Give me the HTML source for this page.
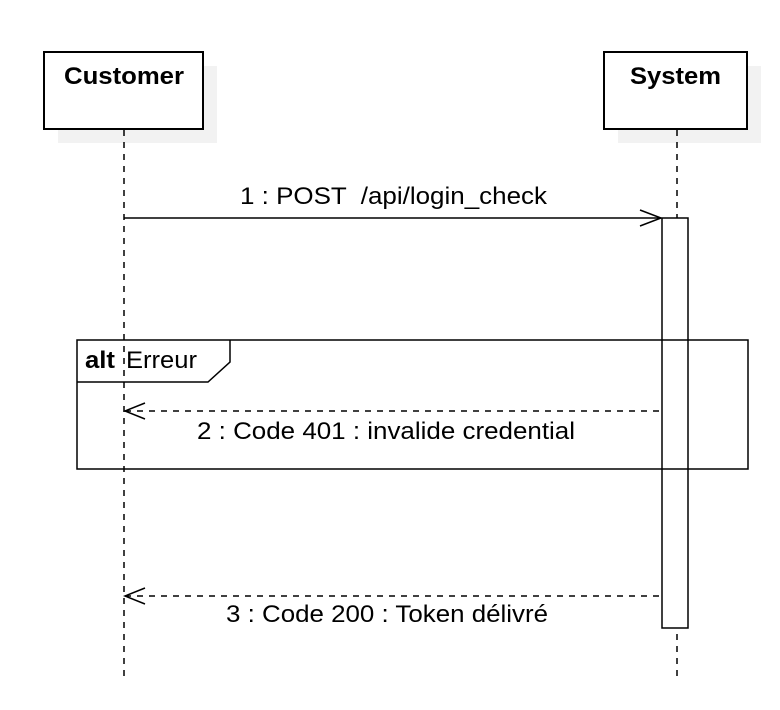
<!DOCTYPE html>
<html><head><style>body{margin:0;background:#fff}svg{display:block}</style></head><body>
<svg width="780" height="710" xmlns="http://www.w3.org/2000/svg" font-family="Liberation Sans, sans-serif">
<rect x="0" y="0" width="780" height="710" fill="#fff"/>
<rect x="58" y="66" width="159" height="77" fill="#f2f2f2"/>
<rect x="618" y="66" width="143" height="77" fill="#f2f2f2"/>
<rect x="44" y="52" width="159" height="77" fill="#fff" stroke="#000" stroke-width="2"/>
<rect x="604" y="52" width="143" height="77" fill="#fff" stroke="#000" stroke-width="2"/>
<text x="64" y="84" font-size="24" font-weight="bold" textLength="120" lengthAdjust="spacingAndGlyphs">Customer</text>
<text x="630" y="84" font-size="24" font-weight="bold" textLength="91" lengthAdjust="spacingAndGlyphs">System</text>
<line x1="124" y1="130" x2="124" y2="678" stroke="#000" stroke-width="1.5" stroke-dasharray="6,6"/>
<line x1="677" y1="130" x2="677" y2="678" stroke="#000" stroke-width="1.5" stroke-dasharray="6,6"/>
<rect x="662" y="218" width="26" height="410" fill="#fff" stroke="#000" stroke-width="1.5"/>
<rect x="77" y="340" width="671" height="129" fill="none" stroke="#000" stroke-width="1.5"/>
<path d="M77 382 H208 L230 362 V340" fill="none" stroke="#000" stroke-width="1.5"/>
<text x="85" y="368" font-size="24" font-weight="bold" textLength="30" lengthAdjust="spacingAndGlyphs">alt</text>
<text x="126" y="368" font-size="24" textLength="71" lengthAdjust="spacingAndGlyphs">Erreur</text>
<line x1="124" y1="218" x2="661" y2="218" stroke="#000" stroke-width="1.5"/>
<path d="M640 210 L661 218 L640 226" fill="none" stroke="#000" stroke-width="1.5"/>
<text x="240" y="204" font-size="24" textLength="307" lengthAdjust="spacingAndGlyphs">1 : POST &#160;/api/login_check</text>
<line x1="125" y1="411" x2="662" y2="411" stroke="#000" stroke-width="1.5" stroke-dasharray="6,6"/>
<path d="M145 403 L125 411 L145 419" fill="none" stroke="#000" stroke-width="1.5"/>
<text x="197" y="439" font-size="24" textLength="378" lengthAdjust="spacingAndGlyphs">2 : Code 401 : invalide credential</text>
<line x1="125" y1="596" x2="662" y2="596" stroke="#000" stroke-width="1.5" stroke-dasharray="6,6"/>
<path d="M145 588 L125 596 L145 604" fill="none" stroke="#000" stroke-width="1.5"/>
<text x="226" y="622" font-size="24" textLength="322" lengthAdjust="spacingAndGlyphs">3 : Code 200 : Token délivré</text>
</svg>
</body></html>
